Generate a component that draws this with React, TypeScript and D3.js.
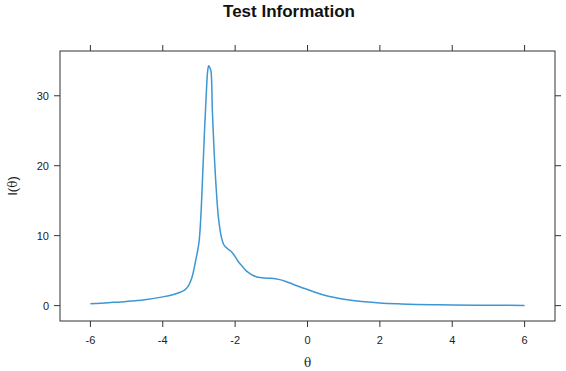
import React from "react";
import * as d3 from "d3";

const thetaValues = [
  -6, -5.5, -5, -4.5, -4, -3.7, -3.5, -3.4, -3.3, -3.2, -3.1, -3.0, -2.95, -2.9,
  -2.85, -2.8, -2.76, -2.73, -2.7, -2.67, -2.63, -2.58, -2.52, -2.46, -2.38,
  -2.3, -2.2, -2.1, -2.0, -1.9, -1.8, -1.7, -1.6, -1.5, -1.4, -1.2, -1.0, -0.8,
  -0.6, -0.4, -0.2, 0, 0.25, 0.5, 0.75, 1.0, 1.25, 1.5, 2, 2.5, 3, 3.5, 4, 5, 6,
];
const infoValues = [
  0.25, 0.42, 0.6, 0.85, 1.25, 1.6, 1.95, 2.2, 2.75, 3.9, 6.2, 9.0, 12.5, 18.3,
  24.5, 30, 33.5, 34.3, 34.0, 33.6, 28, 22, 16.5, 12.5, 9.8, 8.6, 8.1, 7.7, 7.0,
  6.2, 5.6, 5.0, 4.6, 4.3, 4.1, 3.95, 3.9, 3.75, 3.45, 3.05, 2.65, 2.3, 1.85,
  1.45, 1.15, 0.9, 0.72, 0.58, 0.37, 0.25, 0.17, 0.12, 0.09, 0.05, 0.03,
];
const xTicks = [-6, -4, -2, 0, 2, 4, 6];
const yTicks = [0, 10, 20, 30];

const W = 566;
const H = 371;
const box = { left: 60, right: 555, top: 51, bottom: 321 };
const axisColor = "#333";
const textColor = "#222";
const font = "'Liberation Sans', Arial, Helvetica, sans-serif";

export default function App() {
  const x = d3.scaleLinear().domain([-6.84, 6.84]).range([box.left, box.right]);
  const y = d3.scaleLinear().domain([-2.2, 36.4]).range([box.bottom, box.top]);
  const data = thetaValues.map((t, i) => [t, infoValues[i]] as [number, number]);
  const line = d3
    .line<[number, number]>()
    .x((d) => x(d[0]))
    .y((d) => y(d[1]))
    .curve(d3.curveCatmullRom.alpha(0.5));
  const tick = 6;
  return (
    <div style={{ position: "fixed", left: 0, top: 0 }}>
      <svg width={W} height={H} style={{ display: "block", background: "#fff" }}>
        <text
          x={289}
          y={17}
          textAnchor="middle"
          fontFamily={font}
          fontWeight="bold"
          fontSize={17}
          fill="#111"
        >
          Test Information
        </text>
        <rect
          x={box.left}
          y={box.top}
          width={box.right - box.left}
          height={box.bottom - box.top}
          fill="none"
          stroke={axisColor}
          strokeWidth={1}
        />
        {xTicks.map((t) => (
          <g key={"x" + t}>
            <line x1={x(t)} x2={x(t)} y1={box.bottom} y2={box.bottom + tick} stroke={axisColor} />
            <line x1={x(t)} x2={x(t)} y1={box.top} y2={box.top - tick} stroke={axisColor} />
            <text
              x={x(t)}
              y={344}
              textAnchor="middle"
              fontFamily={font}
              fontSize={11}
              fill={textColor}
            >
              {t}
            </text>
          </g>
        ))}
        {yTicks.map((t) => (
          <g key={"y" + t}>
            <line x1={box.left} x2={box.left - tick} y1={y(t)} y2={y(t)} stroke={axisColor} />
            <line x1={box.right} x2={box.right + tick} y1={y(t)} y2={y(t)} stroke={axisColor} />
            <text
              x={49}
              y={y(t) + 4}
              textAnchor="end"
              fontFamily={font}
              fontSize={11}
              fill={textColor}
            >
              {t}
            </text>
          </g>
        ))}
        <path d={line(data) || ""} fill="none" stroke="#3d97d3" strokeWidth={1.5} />
        <text
          x={(box.left + box.right) / 2}
          y={367}
          textAnchor="middle"
          fontFamily="'DejaVu Serif', 'Liberation Serif', serif"
          fontSize={12}
          fill={textColor}
        >
          θ
        </text>
        <text
          transform={`translate(17, ${(box.top + box.bottom) / 2}) rotate(-90)`}
          textAnchor="middle"
          fontFamily={font}
          fontSize={13}
          fill={textColor}
        >
          I(
          <tspan fontFamily="'DejaVu Serif', 'Liberation Serif', serif" fontSize={12}>
            θ
          </tspan>
          )
        </text>
      </svg>
    </div>
  );
}
